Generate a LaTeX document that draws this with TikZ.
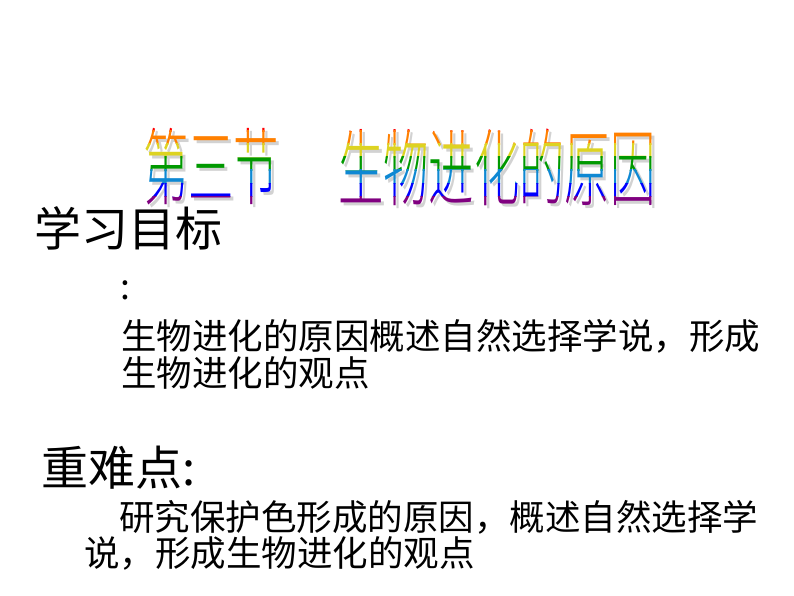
\documentclass[tikz,border=0pt]{standalone}
\usepackage{fontspec}
\newfontfamily\cjk{Noto Sans CJK SC}
\newfontfamily\cjkl{Noto Sans CJK SC Light}
\begin{document}
\begin{tikzpicture}[x=1pt,y=-1pt,
  body/.style={font=\cjk\fontsize{35.5}{40}\selectfont, anchor=west, inner sep=0pt, text=black},
  big/.style={font=\cjk\fontsize{47}{50}\selectfont, anchor=west, inner sep=0pt, text=black},
  ttl/.style={font=\cjkl\fontsize{84}{90}\selectfont, anchor=west, inner sep=0pt, xscale=0.54}]
\useasboundingbox[fill=white] (0,0) rectangle (794,596);
\node[ttl,text=gray!35] (s1) at (146,170) {第三节};
\node[ttl,text=gray!35] (s2) at (341,170) {生物进化的原因};
\foreach \c [count=\i] in {red,orange,yellow!85!black,green!60!black,cyan!70!blue,blue,violet}{
  \begin{scope}
  \clip (0,{118+(\i-1)*13}) rectangle (794,{118+\i*13+0.5});
  \ifnum\i=7 \clip (0,196) rectangle (794,240);\fi
  \node[ttl,text=\c] (t1\i) at (143,167) {第三节};
  \node[ttl,text=\c] (t2\i) at (338,167) {生物进化的原因};
  \end{scope}
}
\node[big] (a) at (34,228) {学习目标};
\node[body] (b) at (120,290) {:};
\node[body] (c) at (121,336) {生物进化的原因概述自然选择学说，形成};
\node[body] (d) at (121,373) {生物进化的观点};
\node[big] (e) at (41,468) {重难点:};
\node[body] (f) at (119,517) {研究保护色形成的原因，概述自然选择学};
\node[body] (g) at (84,553) {说，形成生物进化的观点};
\end{tikzpicture}
\end{document}
